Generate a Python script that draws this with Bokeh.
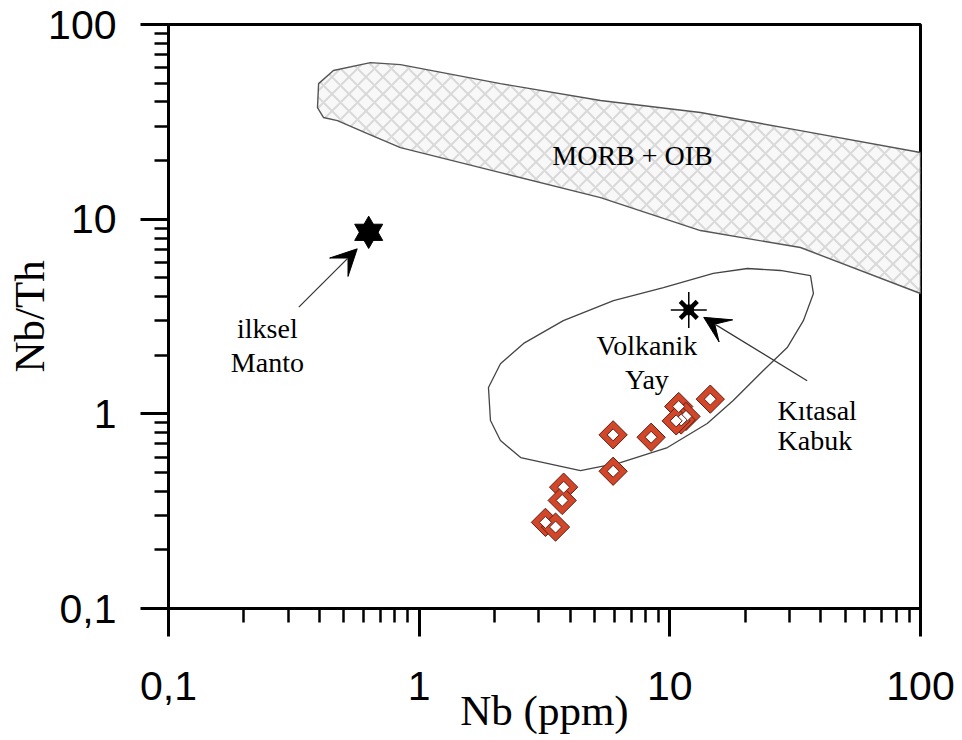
import math
from bokeh.plotting import figure
from bokeh.models import Label, Arrow, VeeHead, FixedTicker
from bokeh.embed import file_html
from bokeh.resources import INLINE

# ---------------- data ----------------
# samples (Nb ppm, Nb/Th)
sample_nb = [5.94, 8.42, 5.94, 3.77, 3.72, 3.19, 3.50, 14.5, 10.85, 11.6, 11.1, 10.6]
sample_nbth = [0.78, 0.758, 0.507, 0.42, 0.359, 0.277, 0.262, 1.19, 1.09, 0.97, 0.93, 0.92]

# reference compositions
manto_nb, manto_nbth = [0.629], [8.56]
kabuk_nb, kabuk_nbth = [11.9], [3.42]

# MORB + OIB field outline
morb_nb = [0.393, 0.397, 0.455, 0.639, 0.842, 2.11, 5.29, 13.25, 33.2, 100,
           100, 33.2, 13.25, 5.29, 2.11, 0.842, 0.622, 0.472, 0.415]
morb_nbth = [37.4, 49.7, 58.0, 63.7, 62.2, 49.7, 40.7, 35.3, 28.5, 22.0,
             4.15, 7.15, 8.74, 12.9, 17.35, 23.3, 27.5, 32.1, 33.3]

# volcanic arc field outline
arc_nb = [1.89, 1.925, 2.11, 2.54, 4.40, 6.35, 9.78, 14.1, 17.9, 23.6, 29.4, 34.1,
          37.4, 36.4, 27.6, 20.4, 14.9, 9.43, 5.96, 3.76, 2.61, 2.11]
arc_nbth = [1.365, 0.924, 0.729, 0.596, 0.511, 0.562, 0.671, 0.892, 1.17, 1.67, 2.19, 3.01,
            4.15, 5.13, 5.45, 5.58, 5.26, 4.45, 3.82, 3.01, 2.30, 1.81]

major_ticks = [0.1, 1, 10, 100]
tick_labels = ["0,1", "1", "10", "100"]
minor_ticks = [0.2, 0.3, 0.4, 0.5, 0.6, 0.7, 0.8, 0.9,
               2, 3, 4, 5, 6, 7, 8, 9,
               20, 30, 40, 50, 60, 70, 80, 90]

SERIF = "Liberation Serif"
SANS = "Liberation Sans"

p = figure(width=962, height=740, x_axis_type="log", y_axis_type="log",
           x_range=(0.1, 100), y_range=(0.1, 100),
           output_backend="svg", toolbar_location=None,
           min_border_left=168, min_border_right=42,
           min_border_top=24, min_border_bottom=132)
p.background_fill_color = "white"
p.border_fill_color = "white"
p.outline_line_color = "black"
p.outline_line_width = 3
p.xgrid.visible = False
p.ygrid.visible = False

for ax in (p.xaxis[0], p.yaxis[0]):
    ax.ticker = FixedTicker(ticks=major_ticks, minor_ticks=minor_ticks)
    ax.major_label_overrides = {t: l for t, l in zip(major_ticks, tick_labels)}
    ax.axis_line_width = 3
    ax.axis_line_color = "black"
    ax.major_tick_line_width = 3
    ax.minor_tick_line_width = 2.5
    ax.major_tick_in = 0
    ax.minor_tick_in = 0
    ax.major_tick_out = 28
    ax.minor_tick_out = 14
    ax.major_label_text_font = SANS
    ax.major_label_text_font_size = "41px"
    ax.major_label_text_color = "black"
    ax.axis_label_text_font = SERIF
    ax.axis_label_text_font_size = "43px"
    ax.axis_label_text_font_style = "normal"
    ax.axis_label_text_color = "black"

p.xaxis[0].major_label_standoff = 35
p.yaxis[0].major_label_standoff = 24
p.xaxis[0].axis_label = "Nb (ppm)"
p.yaxis[0].axis_label = "Nb/Th"
p.xaxis[0].axis_label_standoff = -16
p.yaxis[0].axis_label_standoff = -8

# fields
p.patch(morb_nb, morb_nbth, fill_color="#f8f8f8", line_color="#555555", line_width=1.4,
        hatch_pattern="diagonal_cross", hatch_color="#d9d9d9", hatch_scale=17, hatch_weight=2)
p.patch(arc_nb, arc_nbth, fill_color=None, line_color="#444444", line_width=1.3)

# samples
p.scatter(sample_nb, sample_nbth, marker="square", size=20, angle=math.pi / 4,
          fill_color="#d2472a", line_color="#5e1d12", line_width=1)
p.scatter(sample_nb, sample_nbth, marker="square", size=8.5, angle=math.pi / 4,
          fill_color="white", line_color="#5e1d12", line_width=1)

# primitive mantle (hexagram)
p.scatter(manto_nb, manto_nbth, marker="triangle", size=28, fill_color="black", line_color="black")
p.scatter(manto_nb, manto_nbth, marker="inverted_triangle", size=28, fill_color="black", line_color="black")

# continental crust
p.scatter(kabuk_nb, kabuk_nbth, marker="x", size=24, line_color="black", line_width=4.5)
p.scatter(kabuk_nb, kabuk_nbth, marker="cross", size=36, line_color="black", line_width=1.5)
p.scatter(kabuk_nb, kabuk_nbth, marker="circle", size=10, fill_color="black", line_color="black")

# arrows
p.add_layout(Arrow(x_start=0.331, y_start=3.53, x_end=0.566, y_end=7.04,
                   line_color="#333333", line_width=1.2,
                   end=VeeHead(size=26, fill_color="black", line_color="black", line_width=1)))
p.add_layout(Arrow(x_start=35.3, y_start=1.48, x_end=13.65, y_end=3.13,
                   line_color="#333333", line_width=1.2,
                   end=VeeHead(size=26, fill_color="black", line_color="black", line_width=1)))

def lab(x, y, t, size="28px", align="center", font=SERIF):
    p.add_layout(Label(x=x, y=y, text=t, text_font=font, text_font_size=size,
                       text_align=align, text_baseline="middle", text_color="black"))

lab(7.1, 21.2, "MORB + OIB")
lab(0.248, 2.74, "ilksel")
lab(0.248, 1.835, "Manto")
lab(8.1, 2.25, "Volkanik")
lab(8.1, 1.5, "Yay")
lab(26.9, 1.04, "Kıtasal", align="left")
lab(26.9, 0.73, "Kabuk", align="left")

open("out.html", "w").write(file_html(p, INLINE))
